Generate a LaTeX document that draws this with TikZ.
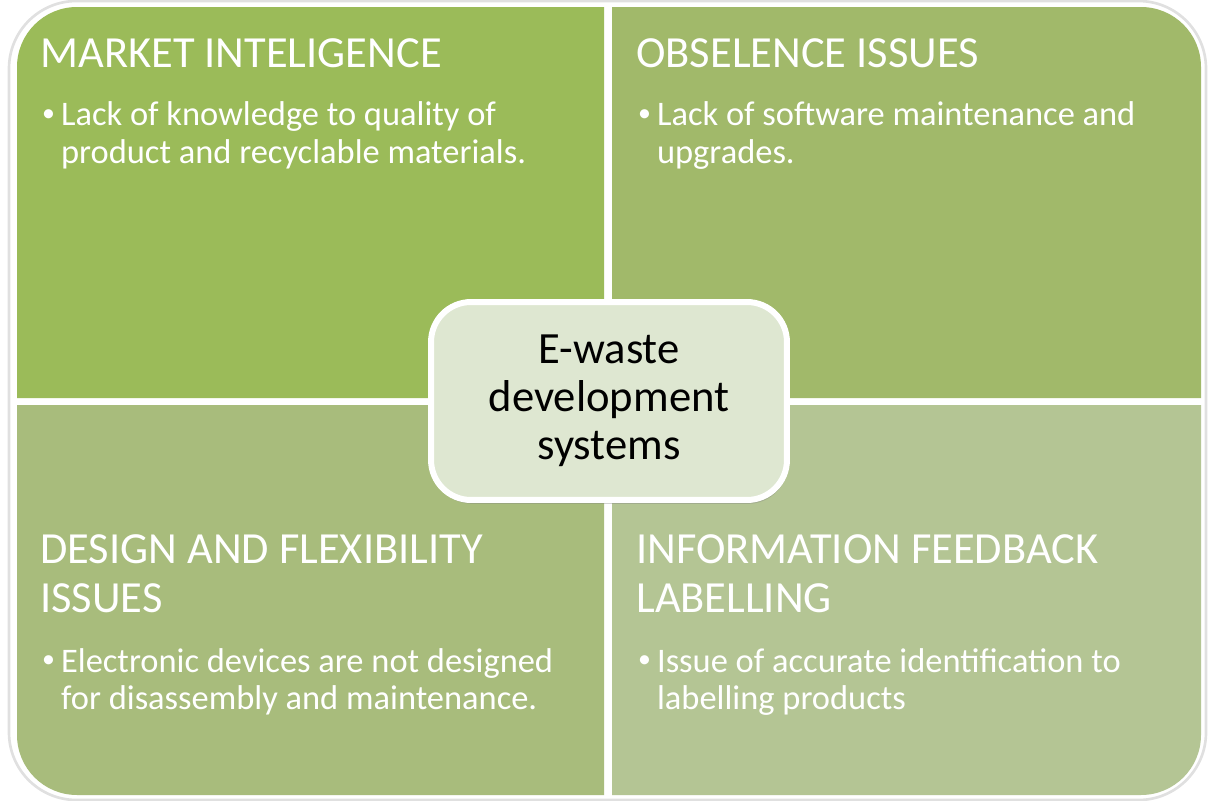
\documentclass[tikz,border=0pt]{standalone}
\usepackage{fontspec}
\setmainfont{Carlito}
\usepackage{xcolor}
\usetikzlibrary{positioning,shadows}

\definecolor{mkfill}{RGB}{155,187,89}
\definecolor{obfill}{RGB}{161,185,106}
\definecolor{dsfill}{RGB}{168,188,124}
\definecolor{iffill}{RGB}{180,197,148}
\definecolor{hubfill}{RGB}{222,231,209}

\newcommand{\blt}{\makebox[11.8pt][l]{\hspace{1pt}\raisebox{0.12em}{\scalebox{0.75}{\textbullet}}}}
\newcommand{\bltgap}{\hspace*{11.8pt}}

\begin{document}
\begin{tikzpicture}[x=0.02cm, y=-0.02cm,
  frame/.style={fill=white, draw=black!12, line width=1.5pt, rounded corners=1.35cm},
  head/.style={anchor=north west, inner sep=0pt, align=left, text=white,
    font=\fontsize{25.3}{27.8}\selectfont},
  point/.style={anchor=north west, inner sep=0pt, align=left, text=white,
    font=\fontsize{19.6}{21.5}\selectfont},
  hub/.style={draw=white, line width=3.4pt, fill=hubfill, rounded corners=0.8cm,
    minimum width=7.12cm, minimum height=3.96cm, align=center,
    font=\fontsize{25.4}{27.2}\selectfont,
    drop shadow={opacity=0.35, shadow xshift=0.6pt, shadow yshift=-2.2pt}}]

\useasboundingbox (0,0) rectangle (1208,801);

% outer frame
\draw[frame] (9,1) rectangle (1206,800);

% the four quarters
\fill[mkfill] (17,398) -- (17,67) arc[start angle=180, end angle=270, radius=60] -- (604,7) -- (604,398) -- cycle;
\fill[obfill] (612,398) -- (612,7) -- (1141,7) arc[start angle=270, end angle=360, radius=60] -- (1201,398) -- cycle;
\fill[dsfill] (17,405) -- (604,405) -- (604,795) -- (77,795) arc[start angle=90, end angle=180, radius=60] -- cycle;
\fill[iffill] (612,405) -- (1201,405) -- (1201,735) arc[start angle=0, end angle=90, radius=60] -- (612,795) -- cycle;

% headings
\node[head] (mk) at (40,38)   {MARKET INTELIGENCE};
\node[head] (ob) at (636,38)  {OBSELENCE ISSUES};
\node[head] (ds) at (40,534)  {DESIGN AND FLEXIBILITY\\ISSUES};
\node[head] (if) at (636,534) {INFORMATION FEEDBACK\\LABELLING};

% bullet points
\node[point] (mkpt) [below=19pt of mk.south west, anchor=north west]
  {\blt Lack of knowledge to quality of\\\bltgap product and recyclable materials.};
\node[point] (obpt) [below=19pt of ob.south west, anchor=north west]
  {\blt Lack of software maintenance and\\\bltgap upgrades.};
\node[point] (dspt) [below=20pt of ds.south west, anchor=north west]
  {\blt Electronic devices are not designed\\\bltgap for disassembly and maintenance.};
\node[point] (ifpt) [below=20pt of if.south west, anchor=north west]
  {\blt Issue of accurate identification to\\\bltgap labelling products};

% centre
\node[hub] (hub) at (609,401) {E-waste\\development\\systems};

\end{tikzpicture}
\end{document}
